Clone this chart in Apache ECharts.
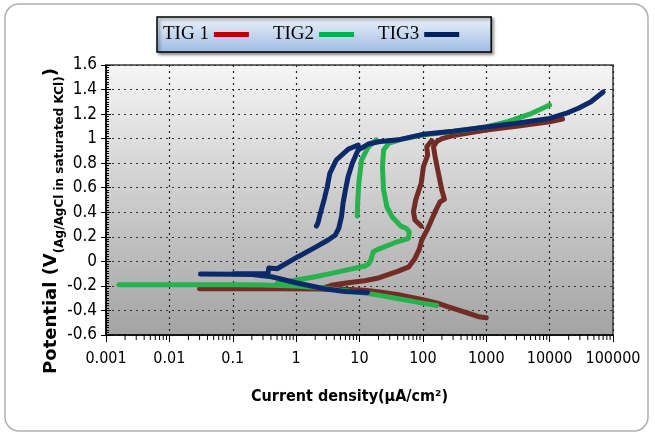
<!DOCTYPE html>
<html>
<head>
<meta charset="utf-8">
<script src="https://cdn.jsdelivr.net/npm/echarts@6/dist/echarts.min.js"></script>
<style>
html,body{margin:0;padding:0;background:#fff;}
#chart{width:655px;height:436px;}
</style>
</head>
<body>
<div id="chart"></div>
<script>
// ---------- data (current density in µA/cm², potential in V) ----------
const seriesNames = ['TIG 1', 'TIG2', 'TIG3'];
const xTickLabels = ['0.001', '0.01', '0.1', '1', '10', '100', '1000', '10000', '100000'];
const yTickMin = -0.6, yTickMax = 1.6, yTickStep = 0.2;

const tig1Current = [1000, 755, 500, 253, 170, 96, 41, 21, 12, 5.9, 2.5, 0.5, 0.03, null,
  2.5, 3.6, 6.6, 12, 20, 41, 60, 75, 88, 96, 115, 130, 156, 187, 219, 199, 176, 156, 147, 165, 200, 300, 1000, 3000, 10000, 16000, null,
  138, 115, 119, 102, 94, 77, 71, 75, 94];
const tig1Potential = [-0.46, -0.451, -0.42, -0.37, -0.34, -0.31, -0.272, -0.25, -0.236, -0.228, -0.225, -0.224, -0.223, null,
  -0.222, -0.195, -0.175, -0.158, -0.135, -0.08, -0.045, 0.024, 0.1, 0.174, 0.25, 0.31, 0.405, 0.486, 0.505, 0.581, 0.717, 0.853, 0.934, 0.975, 1.0, 1.025, 1.07, 1.1, 1.138, 1.16, null,
  0.983, 0.934, 0.866, 0.771, 0.636, 0.5, 0.404, 0.337, 0.288];

const tig2Current = [165, 100, 41, 20, 12, 5, 3, 1, 0.3, 0.1, 0.01, 0.0016, null,
  0.5, 1.07, 2, 3.6, 7, 12.2, 14, 15.1, 16.5, 20, 36, 50, 59, 61, 55, 45, 32.6, 27, 24, 23, 24, 28.7, 45, 100, 466, 1000, 2250, 5250, 10000, null,
  18.4, 13.7, 10.8, 9.8, 9.4, 9.2];
const tig2Potential = [-0.36, -0.34, -0.305, -0.275, -0.258, -0.235, -0.22, -0.2, -0.193, -0.191, -0.19, -0.19, null,
  -0.18, -0.15, -0.125, -0.098, -0.065, -0.038, -0.02, 0.011, 0.078, 0.1, 0.152, 0.175, 0.187, 0.241, 0.268, 0.287, 0.364, 0.445, 0.581, 0.771, 0.907, 0.961, 0.994, 1.03, 1.07, 1.095, 1.14, 1.206, 1.274, null,
  0.989, 0.93, 0.826, 0.65, 0.5, 0.37];

const tig3Current = [13.4, 5.9, 2.75, 1.0, 0.41, 0.2, 0.1, 0.031, null,
  0.1, 0.36, 0.37, 0.5, 0.52, 1.07, 2, 3.2, 4.17, 4.7, 5.2, 5.5, 6.0, 6.6, 7.7, 9.5, 13.7, 20, 41, 100, 300, 1000, 3000, 10000, 18000, 29000, 45000, 70000, null,
  9.5, 6.6, 4.3, 3.4, 3.1, 2.8, 2.45, 2.2, 2.09];
const tig3Potential = [-0.253, -0.245, -0.223, -0.174, -0.125, -0.108, -0.104, -0.103, null,
  -0.1, -0.098, -0.055, -0.06, -0.05, 0.038, 0.114, 0.174, 0.215, 0.269, 0.364, 0.473, 0.581, 0.69, 0.8, 0.907, 0.956, 0.975, 0.99, 1.035, 1.06, 1.095, 1.125, 1.165, 1.205, 1.25, 1.3, 1.38, null,
  0.948, 0.913, 0.826, 0.717, 0.608, 0.514, 0.404, 0.31, 0.288];

// minor log ticks: multipliers within each decade
const decadeExponents = [-3, -2, -1, 0, 1, 2, 3, 4];
const minorMultipliers = [2, 3, 4, 5, 6, 7, 8, 9];

// ---------- build ----------
function zip(xs, ys) {
  return xs.map((x, i) => (x === null || ys[i] === null) ? ['-', '-'] : [x, ys[i]]);
}
const minorTickData = [];
decadeExponents.forEach(e => minorMultipliers.forEach(m => minorTickData.push([m * Math.pow(10, e), yTickMin])));

const narrow = "'Liberation Sans Narrow','DejaVu Sans Condensed','Arial Narrow','Liberation Sans',Arial,sans-serif";
const lineColors = ['#722b25', '#27b24d', '#0c2a6a'];
const legendColors = ['#c00000', '#00b050', '#002060'];

const chart = echarts.init(document.getElementById('chart'), null, {renderer: 'canvas'});

function lineSeries(name, data, color) {
  return {
    name: name, type: 'line', data: data, symbol: 'none', smooth: false,
    connectNulls: false, clip: true,
    lineStyle: {color: color, width: 5, cap: 'round', join: 'round'},
    itemStyle: {color: color},
    emphasis: {disabled: true}
  };
}

const option = {
  backgroundColor: '#ffffff',
  animation: false,
  graphic: [
    {type: 'rect', z: -100, shape: {x: 5, y: 4, width: 643, height: 427, r: 14},
     style: {fill: '#ffffff', stroke: '#b0b0b0', lineWidth: 1.5}},
    {type: 'text', x: 54, y: 221, rotation: Math.PI / 2,
     style: {
       text: '{a|Potential (V}{b|(Ag/AgCl in saturated KCl)}{a|)}',
       align: 'center', verticalAlign: 'middle',
       rich: {
         a: {fontFamily: "'DejaVu Sans',sans-serif", fontWeight: 'bold', fontSize: 18, lineHeight: 24, verticalAlign: 'top', fill: '#000', color: '#000'},
         b: {fontFamily: "'DejaVu Sans',sans-serif", fontWeight: 'bold', fontSize: 12, lineHeight: 12, verticalAlign: 'bottom', fill: '#000', color: '#000'}
       }
     }}
  ],
  legend: {
    data: seriesNames.map((n, i) => ({name: n, itemStyle: {color: legendColors[i]}})),
    left: 157, top: 17, orient: 'horizontal', align: 'right',
    icon: 'rect', itemWidth: 35, itemHeight: 5, itemGap: 24,
    padding: [8, 32, 8, 6],
    backgroundColor: {type: 'linear', x: 0, y: 0, x2: 0, y2: 1,
      colorStops: [{offset: 0, color: '#eef3fa'}, {offset: 1, color: '#9dbbe3'}]},
    borderColor: '#000', borderWidth: 1.5,
    shadowColor: 'rgba(0,0,0,0.45)', shadowBlur: 3, shadowOffsetX: 2, shadowOffsetY: 2,
    textStyle: {fontFamily: "'Liberation Serif','Times New Roman',serif", fontSize: 19, color: '#000'},
    selectedMode: false
  },
  grid: {
    left: 106, right: 42, top: 65, bottom: 101, show: true,
    backgroundColor: {type: 'linear', x: 0, y: 0, x2: 0, y2: 1,
      colorStops: [{offset: 0, color: '#f5f5f5'}, {offset: 1, color: '#a3a3a3'}]},
    borderColor: '#3a3a3a', borderWidth: 1.5
  },
  xAxis: [{
    type: 'log', logBase: 10, min: 0.001, max: 100000, splitNumber: 8,
    axisLine: {show: true, onZero: false, lineStyle: {color: '#000', width: 1.5}},
    axisTick: {show: true, length: 7, lineStyle: {color: '#000', width: 1}},
    axisLabel: {
      margin: 16, fontSize: 16, fontFamily: narrow, color: '#000',
      formatter: v => xTickLabels[Math.round(Math.log10(v)) + 3]
    },
    splitLine: {show: true, lineStyle: {color: '#222', type: [2, 4], width: 1.2}},
    name: 'Current density(μA/cm²)', nameLocation: 'middle', nameGap: 54,
    nameTextStyle: {fontFamily: narrow, fontWeight: 'bold', fontSize: 16, color: '#000', padding: [0, 20, 0, 0]}
  }],
  yAxis: [{
    type: 'value', min: yTickMin, max: yTickMax, interval: yTickStep,
    axisLine: {show: true, onZero: false, lineStyle: {color: '#000', width: 1.5}},
    axisTick: {show: true, length: 5, lineStyle: {color: '#000'}},
    axisLabel: {margin: 9, fontSize: 17, fontFamily: narrow, color: '#000'},
    splitLine: {show: true, lineStyle: {color: '#333', type: [2, 4], width: 1.2}}
  }, {
    type: 'value', min: yTickMin, max: yTickMax, interval: yTickStep, position: 'left',
    axisLine: {show: false, onZero: false},
    axisTick: {show: true, inside: true, length: 5, lineStyle: {color: '#000'}},
    minorTick: {show: true, splitNumber: 10, length: 3, lineStyle: {color: '#000', width: 1}},
    axisLabel: {show: false},
    splitLine: {show: false}
  }],
  series: [
    lineSeries(seriesNames[0], zip(tig1Current, tig1Potential), lineColors[0]),
    lineSeries(seriesNames[1], zip(tig2Current, tig2Potential), lineColors[1]),
    lineSeries(seriesNames[2], zip(tig3Current, tig3Potential), lineColors[2]),
    {
      type: 'custom', name: 'minorTicks', silent: true, clip: false, z: 5,
      data: minorTickData,
      renderItem: function (params, api) {
        const p = api.coord([api.value(0), api.value(1)]);
        return {type: 'line', shape: {x1: p[0], y1: p[1], x2: p[0], y2: p[1] + 5},
          style: {stroke: '#000', lineWidth: 1}};
      }
    }
  ]
};
chart.setOption(option);
</script>
</body>
</html>
